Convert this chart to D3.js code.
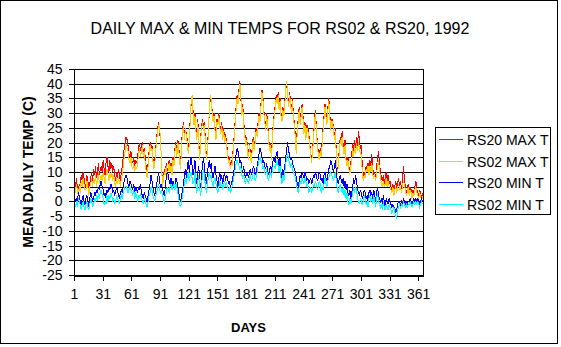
<!DOCTYPE html>
<html><head><meta charset="utf-8">
<script src="https://cdn.jsdelivr.net/npm/d3@7/dist/d3.min.js"></script>
<style>
body{margin:0;background:#fff}
svg{display:block}
text{font-family:Arial,"Liberation Sans",sans-serif;fill:#000}
</style>
</head><body><div id="chart"></div>
<script>
const title = "DAILY MAX & MIN TEMPS FOR RS02 & RS20, 1992";
const yLabel = "MEAN DAILY TEMP (C)";
const xLabel = "DAYS";
const seriesNames = ["RS20 MAX T","RS02 MAX T","RS20 MIN T","RS02 MIN T"];
const seriesColors = ["#ff0000","#ffcc00","#0000ff","#00ffff"];
const yTicks = [45,40,35,30,25,20,15,10,5,0,-5,-10,-15,-20,-25];
const xTickLabels = [1,31,61,91,121,151,181,211,241,271,301,331,361];

const rs20Max = [
6,4,8,5,3,6,5,9,7,10, 8,6,5,9,7,4,6,8,10,7, 11,9,12,8,10,13,9,11,12,10, 14,11,9,13,15,12,10,14,11,13,
10,12,9,7,10,8,11,9,7,10, 12,15,18,20,22,21,19,16,15,17, 14,13,15,12,14,13,15,18,20,17, 19,20,17,18,15,12,9,13,17,20,
18,19,15,12,14,18,22,25,27,24, 20,14,5,8,11,10,13,9,12,14, 11,13,10,15,13,18,20,16,21,19, 14,12,20,24,27,22,25,23,21,17,
20,28,33,35,31,27,30,25,22,28, 20,15,22,26,28,25,27,20,15,18, 24,30,35,34,31,28,30,25,22,28, 27,30,26,24,27,22,25,21,23,20,
17,14,15,12,14,13,18,22,27,32, 36,34,38,41,35,30,33,27,24,20, 22,18,15,20,16,14,19,22,18,21, 25,23,27,30,28,33,38,36,31,28,
25,30,27,22,18,20,15,22,27,30, 33,36,34,37,32,35,30,28,32,30, 34,38,40,36,33,37,34,31,35,29, 27,22,18,25,28,32,27,30,33,29,
24,27,22,26,25,23,20,17,14,18, 22,28,31,25,20,17,15,18,16,20, 25,29,33,30,27,32,35,30,25,28, 28,24,22,25,14,10,13,18,22,20,
24,19,17,21,15,13,15,12,10,13, 16,20,17,21,18,22,19,24,21,18, 19,12,8,10,9,12,11,13,10,14, 12,16,11,9,10,8,12,15,17,13,
10,8,7,9,6,8,10,7,9,6, 7,5,4,6,3,5,7,4,6,8, 5,7,4,6,12,8,5,3,4,6, 3,5,4,2,4,3,5,7,4,3, 2,4,3,1,3];

const rs02Max = [
4,3,6,4,2,5,3,7,5,8, 6,4,4,7,5,2,5,6,8,5, 8,6,9,5,7,10,6,8,9,7, 10,8,6,9,11,9,7,10,8,10,
7,9,6,5,8,6,8,7,5,8, 9,12,15,17,19,18,17,14,13,15, 12,11,13,10,12,11,13,16,18,15, 17,19,15,17,13,10,8,12,16,19,
17,18,14,11,13,17,21,24,26,25, 21,13,5,7,10,9,12,8,11,13, 10,12,9,14,12,17,19,15,20,18, 13,11,19,23,26,21,25,22,20,16,
19,27,34,36,30,26,29,24,21,27, 19,14,21,25,27,24,26,19,14,17, 23,31,36,35,30,27,29,24,21,27, 26,29,25,23,26,21,24,20,22,19,
16,13,14,11,13,12,17,21,26,31, 35,33,37,40,36,29,32,26,23,19, 21,17,14,19,15,13,18,21,17,20, 24,22,26,29,27,32,37,35,30,27,
24,29,26,21,17,19,14,21,26,29, 32,35,33,36,31,34,29,27,31,29, 33,39,41,35,32,36,33,30,34,28, 26,21,16,24,27,31,26,29,32,28,
23,26,21,25,24,22,19,16,13,17, 21,27,30,24,19,16,14,17,15,19, 24,28,32,29,26,31,34,29,24,27, 27,23,21,24,13,9,12,17,21,19,
22,18,16,19,14,12,14,11,9,12, 14,18,15,19,16,20,17,20,18,16, 16,10,7,9,8,11,10,12,9,12, 10,13,9,8,9,7,10,12,14,11,
8,6,5,7,5,6,8,5,7,5, 5,4,3,5,2,4,5,3,5,6, 4,5,3,5,7,6,4,2,3,5, 2,4,3,1,3,2,4,5,3,2, 1,3,2,0,2];

const rs20Min = [
2,0,1,-1,3,2,0,-2,1,2, 0,-1,1,2,0,-2,1,3,2,0, 1,3,2,4,3,5,4,6,7,5, 4,2,3,1,4,3,5,4,6,5,
3,4,2,3,5,4,2,1,3,4, 3,5,7,8,9,8,6,5,7,6, 5,4,6,3,5,4,3,5,4,6, 3,2,1,3,2,1,0,2,4,6,
9,7,5,3,2,4,6,8,10,7, 5,6,4,3,2,5,8,10,9,7, 6,8,5,7,6,5,8,7,5,3, 1,0,2,4,6,9,11,8,12,14,
10,13,15,12,9,11,14,8,6,10, 12,7,5,9,13,15,11,8,6,10, 12,14,11,13,9,8,10,12,9,7, 5,8,10,7,9,6,8,10,7,9,
8,6,7,5,6,7,9,11,14,16, 18,17,15,13,14,11,10,12,9,8, 10,9,8,10,11,9,10,12,11,9, 10,12,14,16,18,17,15,13,14,12,
11,13,10,9,11,12,10,13,14,15, 13,16,17,14,12,15,10,8,11,9, 12,15,18,20,17,16,14,15,13,12, 11,10,8,6,5,7,9,8,10,9,
8,10,9,7,8,6,7,8,6,7, 9,8,10,9,7,8,10,9,7,8, 6,9,10,8,7,9,11,12,14,13, 11,10,12,14,9,7,6,8,9,7,
6,8,5,7,4,6,3,2,4,1, 3,5,8,6,9,7,4,3,2,4, 3,1,2,4,3,1,2,0,3,4, 2,3,1,4,2,0,3,5,2,1,
0,1,-1,2,0,-2,1,0,-1,1, 0,-1,-2,-1,-3,-2,-4,-3,-1,0, 0,-1,0,-1,1,0,-1,0,-1,0, 0,1,0,-1,0,1,0,1,0,1, 0,-1,0,1,0];

const rs02Min = [
-1,-2,0,-2,1,0,-1,-3,-1,0, -2,-3,-1,0,-2,-3,-1,1,0,-2, -1,1,0,2,0,3,1,3,4,2, 1,-1,0,-1,2,0,2,1,3,2,
0,1,-1,0,2,1,0,-1,1,2, 1,3,4,5,5,4,3,4,5,4, 3,2,4,1,3,2,0,2,1,3, 1,0,-1,1,0,-1,-2,0,2,3,
5,4,2,1,0,2,3,5,6,4, 3,4,2,1,-1,1,3,5,4,3, 5,6,4,5,6,4,6,5,3,1, -1,-2,0,2,4,6,8,6,9,10,
7,9,10,8,6,7,10,5,3,7, 9,4,2,6,9,11,8,5,3,6, 8,10,8,9,6,5,7,8,6,4, 3,5,7,5,6,4,6,7,5,6,
5,4,5,3,4,5,7,9,11,13, 14,13,12,11,12,9,8,9,7,6, 8,7,6,8,9,7,8,10,9,7, 8,10,12,14,15,14,13,11,12,10,
9,11,8,7,9,10,8,11,12,12, 11,13,14,12,10,12,8,6,9,7, 10,13,15,16,14,13,12,13,11,10, 9,8,6,4,3,5,7,6,8,7,
6,8,7,5,6,3,4,5,3,4, 6,5,7,6,4,5,7,6,3,5, 4,6,8,6,5,7,8,9,10,9, 8,7,9,10,6,4,3,5,6,4,
3,5,2,4,1,3,0,-1,1,-1, 1,3,5,3,5,4,1,0,-1,1, 0,-1,0,2,1,-1,0,-2,1,2, 0,1,-1,2,0,-2,1,3,0,-1,
-2,-1,-3,0,-2,-3,-1,-2,-3,-1, -2,-3,-4,-3,-2,-4,-5,-6,-3,-2, -1,-2,-1,-2,0,-1,-2,-1,-2,-1, -1,0,-1,-2,-1,0,-1,0,-1,0, -1,-2,-1,0,-1];

const allSeries = [rs20Max, rs02Max, rs20Min, rs02Min];
const nDays = rs20Max.length;

const W = 561, H = 347;
const svg = d3.select("#chart").append("svg").attr("width", W).attr("height", H);

// outer frame
svg.append("rect").attr("x",0.5).attr("y",0.5).attr("width",557).attr("height",343)
  .attr("fill","#fff").attr("stroke","#000").attr("shape-rendering","crispEdges");

const x0 = 74, x1 = 423, yTop = 69, yBot = 275;
const x = d3.scaleLinear().domain([0, nDays]).range([x0, x1]);
const y = d3.scaleLinear().domain([-25, 45]).range([yBot, yTop]);

// gridlines
svg.append("g").selectAll("line").data(yTicks).join("line")
  .attr("x1", x0).attr("x2", x1)
  .attr("y1", d => Math.round(y(d)) + 0.5).attr("y2", d => Math.round(y(d)) + 0.5)
  .attr("stroke","#000").attr("shape-rendering","crispEdges");
// right border
svg.append("line").attr("x1", x1+0.5).attr("x2", x1+0.5).attr("y1", yTop).attr("y2", yBot+1)
  .attr("stroke","#000").attr("shape-rendering","crispEdges");

// series lines
const line = d3.line().x((d,i) => x(i + 0.5)).y(d => y(d));
const gL = svg.append("g");
allSeries.forEach((s, k) => {
  gL.append("path").datum(s).attr("d", line).attr("fill","none")
    .attr("stroke", seriesColors[k]).attr("stroke-width", 1)
    .attr("shape-rendering","crispEdges");
});

// y axis
const yAxis = d3.axisLeft(y).tickValues(yTicks).tickSize(5).tickSizeOuter(0).tickPadding(6)
  .tickFormat(d => String(d));
const gy = svg.append("g").attr("transform", `translate(${x0 - 0.5},0)`).call(yAxis);
gy.selectAll("text").attr("font-size", 14).attr("font-family", "Arial, 'Liberation Sans', sans-serif");
gy.selectAll("line,path").attr("stroke","#000").attr("shape-rendering","crispEdges");

// x axis
const xAxis = d3.axisBottom(x).tickValues(xTickLabels.map(v => v - 1)).tickSize(5).tickSizeOuter(0).tickPadding(9)
  .tickFormat(d => String(d + 1));
const gx = svg.append("g").attr("transform", `translate(0,${yBot + 0.5})`).call(xAxis);
gx.selectAll("text").attr("font-size", 14).attr("font-family", "Arial, 'Liberation Sans', sans-serif");
gx.selectAll("line,path").attr("stroke","#000").attr("shape-rendering","crispEdges");

// title
svg.append("text").attr("x", 280).attr("y", 34).attr("text-anchor","middle")
  .attr("font-size", 16).text(title);
// axis titles
svg.append("text").attr("transform", "translate(33,172) rotate(-90)").attr("text-anchor","middle")
  .attr("font-size", 14).attr("font-weight","bold").text(yLabel);
svg.append("text").attr("x", 248.5).attr("y", 332).attr("text-anchor","middle")
  .attr("font-size", 13).attr("font-weight","bold").text(xLabel);

// legend
const lg = svg.append("g");
lg.append("rect").attr("x",435.5).attr("y",127.5).attr("width",115).attr("height",87)
  .attr("fill","#fff").attr("stroke","#000").attr("shape-rendering","crispEdges");
const rowsY = [139.5, 161.5, 182.5, 204.5];
seriesNames.forEach((n, k) => {
  lg.append("line").attr("x1",439).attr("x2",463).attr("y1",rowsY[k]).attr("y2",rowsY[k])
    .attr("stroke", seriesColors[k]).attr("shape-rendering","crispEdges");
  lg.append("text").attr("x",467).attr("y",rowsY[k] + 5).attr("font-size",14).text(n);
});
</script></body></html>
